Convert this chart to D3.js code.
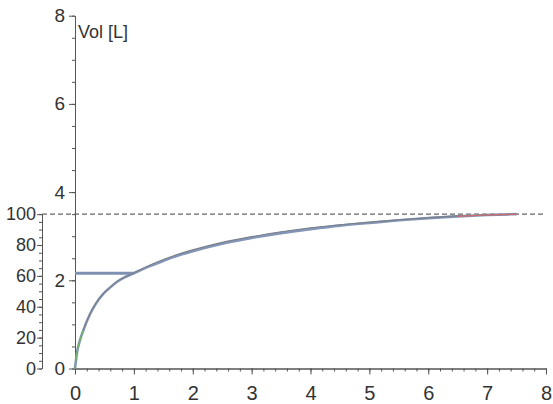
<!DOCTYPE html>
<html>
<head>
<meta charset="utf-8">
<script src="https://cdn.jsdelivr.net/npm/d3@7/dist/d3.min.js"></script>
<style>
  html, body { margin: 0; padding: 0; background: #fff; }
  svg { display: block; }
  text { font-family: "Liberation Sans", Arial, sans-serif; fill: #333; }
</style>
</head>
<body>
<svg id="chart" width="553" height="404"></svg>
<script>
// Volume–time spirometry curves (time in s, volume in L)
const timeTicks = [0, 1, 2, 3, 4, 5, 6, 7, 8];
const volTicks = [0, 2, 4, 6, 8];
const pctTicks = [0, 20, 40, 60, 80, 100];

const fvc = 3.50;   // forced vital capacity, L (100 %)
const fev1 = 2.16;  // volume at 1 s, L

const trialTime = [0, 0.03, 0.08, 0.14, 0.25, 0.35, 0.48, 0.6, 0.71, 0.85, 1.0, 1.25, 1.5, 1.75, 2.0, 2.5, 3.0, 3.5, 4.0, 4.5, 5.0, 5.5, 6.0, 6.5, 7.0, 7.5];
const trialA = [0, 0.33, 0.62, 0.86, 1.22, 1.46, 1.69, 1.84, 1.96, 2.07, 2.16, 2.31, 2.44, 2.56, 2.66, 2.83, 2.96, 3.07, 3.16, 3.24, 3.30, 3.36, 3.41, 3.45, 3.48, 3.50];
const trialB = [0, 0.34, 0.63, 0.87, 1.23, 1.47, 1.70, 1.85, 1.97, 2.08, 2.17, 2.33, 2.47, 2.59, 2.69, 2.86, 2.99, 3.10, 3.19, 3.26, 3.32, 3.37, 3.42, 3.46, 3.48, 3.50];

const svg = d3.select("#chart");

const x = d3.scaleLinear().domain([0, 8]).range([75, 546]);
const y = d3.scaleLinear().domain([0, 8]).range([368.5, 15.7]);
const yPct = d3.scaleLinear().domain([0, 100]).range([y(0), y(fvc)]);

const axisColor = "#555";
const fontFam = "Liberation Sans, Arial, sans-serif";

// Volume axis with minor ticks every 0.5 L
svg.append("g")
  .attr("transform", `translate(${x(0)},0)`)
  .call(d3.axisLeft(y).tickValues(d3.range(0, 8.01, 0.5)).tickSize(3).tickFormat("").tickSizeOuter(0))
  .call(g => g.selectAll("line,path").attr("stroke", axisColor));
svg.append("g")
  .attr("transform", `translate(${x(0)},0)`)
  .call(d3.axisLeft(y).tickValues(volTicks).tickSize(6).tickPadding(4).tickSizeOuter(0))
  .call(g => g.selectAll("line,path").attr("stroke", axisColor))
  .call(g => g.selectAll("text").attr("font-size", 19).attr("font-family", fontFam).attr("fill", "#333"));

// Percent-of-FVC axis with minor ticks every 5 %
const pctX = 42;
svg.append("g")
  .attr("transform", `translate(${pctX},0)`)
  .call(d3.axisLeft(yPct).tickValues(d3.range(0, 101, 5)).tickSize(3).tickFormat("").tickSizeOuter(0))
  .call(g => g.selectAll("line,path").attr("stroke", axisColor));
svg.append("g")
  .attr("transform", `translate(${pctX},0)`)
  .call(d3.axisLeft(yPct).tickValues(pctTicks).tickSize(5).tickPadding(1).tickSizeOuter(0))
  .call(g => g.selectAll("line,path").attr("stroke", axisColor))
  .call(g => g.selectAll("text").attr("font-size", 18).attr("font-family", fontFam).attr("fill", "#333"));

// Time axis with minor ticks every 0.2 s
svg.append("g")
  .attr("transform", `translate(0,${y(0)})`)
  .call(d3.axisBottom(x).tickValues(d3.range(0, 8.001, 0.2)).tickSize(3).tickFormat("").tickSizeOuter(0))
  .call(g => g.selectAll("line,path").attr("stroke", axisColor));
svg.append("g")
  .attr("transform", `translate(0,${y(0)})`)
  .call(d3.axisBottom(x).tickValues(timeTicks).tickSize(6).tickPadding(11).tickSizeOuter(0))
  .call(g => g.selectAll("line,path").attr("stroke", axisColor))
  .call(g => g.selectAll("text").attr("font-size", 20).attr("font-family", fontFam).attr("fill", "#333"));

// Axis title
svg.append("text")
  .attr("x", x(0) + 3).attr("y", 38)
  .attr("font-size", 18)
  .text("Vol [L]");

// 100 % (FVC) reference line
svg.append("line")
  .attr("x1", pctX).attr("x2", x(8))
  .attr("y1", y(fvc)).attr("y2", y(fvc))
  .attr("stroke", "#666").attr("stroke-width", 1.1)
  .attr("stroke-dasharray", "5,3");

// FEV1 marker: horizontal from 0 s to 1 s at the 1-second volume
svg.append("line")
  .attr("x1", x(0)).attr("x2", x(1))
  .attr("y1", y(fev1)).attr("y2", y(fev1))
  .attr("stroke", "#7e91b3").attr("stroke-width", 3);

const line = d3.line().x(d => x(d[0])).y(d => y(d[1])).curve(d3.curveMonotoneX);
const ptsA = trialTime.map((t, i) => [t, trialA[i]]);
const ptsB = trialTime.map((t, i) => [t, trialB[i]]);

svg.append("path").datum(ptsA).attr("d", line)
  .attr("fill", "none").attr("stroke", "#8396b8").attr("stroke-width", 2.6);
svg.append("path").datum(ptsB).attr("d", line)
  .attr("fill", "none").attr("stroke", "#7b7f8a").attr("stroke-width", 1.1);

// Start and end segments of the third trace
svg.append("path").datum(ptsA.filter(d => d[0] <= 0.14)).attr("d", line)
  .attr("fill", "none").attr("stroke", "#6fb86a").attr("stroke-width", 1.2);
svg.append("path").datum(ptsA.filter(d => d[0] >= 6.5)).attr("d", line)
  .attr("fill", "none").attr("stroke", "#d46a6a").attr("stroke-width", 1.1);
</script>
</body>
</html>
